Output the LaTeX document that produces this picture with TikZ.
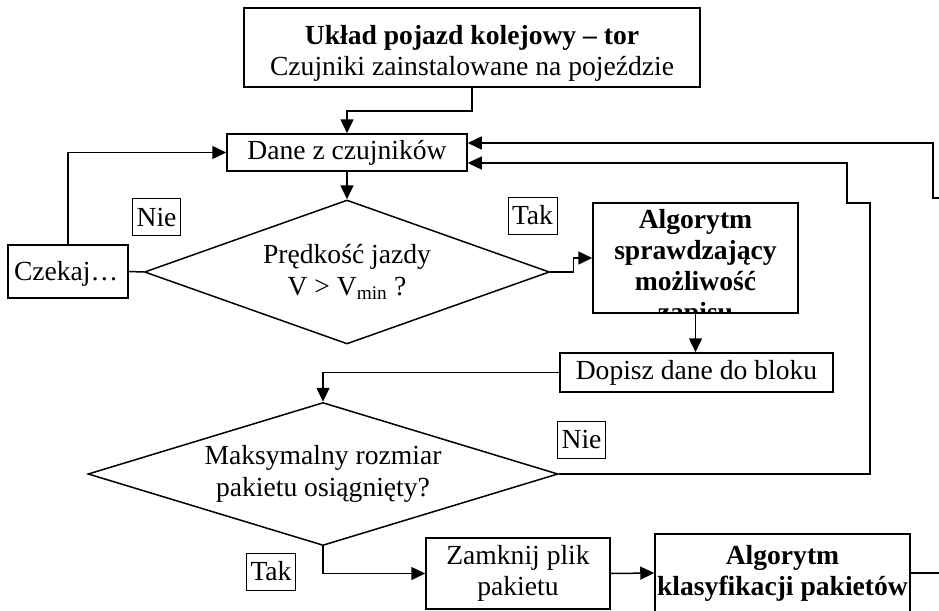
\documentclass[tikz,border=0pt]{standalone}
\usepackage{fontspec}
\setmainfont{Liberation Serif}
\usetikzlibrary{arrows.meta, shapes.geometric}

\begin{document}
\begin{tikzpicture}[
    x=1pt, y=-1pt,
    %% Process boxes
    pbox/.style = {
      draw, line width=1.5pt, align=center,
      inner sep=0pt, font=\fontsize{27.6}{31}\selectfont},
    bbox/.style = {pbox, font=\fontsize{27.6}{31}\selectfont\bfseries},
    %% Decision diamonds
    dec/.style = {
      draw, diamond, line width=1.5pt, align=center,
      inner sep=0pt, font=\fontsize{27.6}{32.5}\selectfont},
    %% Tak / Nie labels
    lab/.style = {
      draw, line width=0.9pt, inner xsep=4pt, inner ysep=0pt,
      minimum height=37pt, font=\fontsize{27.6}{31}\selectfont},
    %% Connectors
    arr/.style = {-{Triangle[length=14pt, width=13pt]}, line width=1.5pt},
    ln/.style  = {line width=1.5pt},
  ]

    \useasboundingbox (0,0) rectangle (939,610);
    \clip (0,0) rectangle (939,610);

    %% ── Main column ────────────────────────────────────────────────────
    \node[pbox, minimum width=456pt, minimum height=79pt] (B0) at (472,47.5)
      {\rule{0pt}{30pt}\textbf{Układ pojazd kolejowy – tor}\\Czujniki zainstalowane na pojeździe};
    \node[pbox, minimum width=240pt, minimum height=37pt] (B1) at (347,152.5)
      {Dane z czujników};
    \node[dec, aspect=2.8, minimum width=405pt, minimum height=144pt] (D1) at (347,272)
      {Prędkość jazdy\\V > V\textsubscript{min} ?};
    \node[pbox, inner xsep=6pt, text width=108pt, align=left,
          minimum height=53pt] (C1) at (68,271.5) {\rule{0pt}{24pt}Czekaj…};

    %% algorithm box, last line cut by the frame
    \node[pbox, minimum width=205pt, minimum height=110pt] (A1) at (695.5,258) {};
    \begin{scope}
      \clip (A1.north west) rectangle (A1.south east);
      \node[bbox, draw=none] (A1t) at (695.5,268)
        {Algorytm\\sprawdzający\\możliwość\\zapisu};
    \end{scope}

    \node[pbox, minimum width=273pt, minimum height=39pt] (B2) at (696.5,372.5)
      {Dopisz dane do bloku};
    \node[dec, aspect=3.3, minimum width=470pt, minimum height=143pt] (D2) at (323,474)
      {Maksymalny rozmiar\\pakietu osiągnięty?};
    \node[pbox, minimum width=184pt, minimum height=71pt] (B3) at (518,573.5)
      {Zamknij plik\\pakietu};
    \node[bbox, minimum width=255pt, minimum height=78pt] (A2) at (782.5,573)
      {Algorytm\\klasyfikacji pakietów};

    %% ── Labels ─────────────────────────────────────────────────────────
    \node[lab] (L1) at (156.5,217)   {Nie};
    \node[lab] (L2) at (532.5,215.5) {Tak};
    \node[lab] (L3) at (581.5,439.5) {Nie};
    \node[lab] (L4) at (271,571.5)   {Tak};

    %% ── Connectors ─────────────────────────────────────────────────────
    \coordinate (r1) at (870,203);
    \coordinate (r2) at (847,163);
    \coordinate (q0) at (960,198);
    \coordinate (q1) at (933,143);
    \coordinate (q2) at (960,573);

    \draw[arr] (B0.south) -- ++(0,23) -| (B1.north);
    \draw[arr] (B1) -- (D1);
    \draw[ln]  (D1.west) -- (C1.east);
    \draw[arr] (C1.north) |- (B1.west);
    \draw[arr] (D1.east) -- ++(23,0) |- (A1.west);
    \draw[arr] (A1.south) -- (A1.south|-B2.north);
    \draw[arr] (B2.west) -| (D2.north);
    \draw[arr] (D2.east) -| (r1) -| (r2) -- (B1.east|-r2);
    \draw[arr] (q0) -| (q1) -- (B1.east|-q1);
    \draw[arr] (D2.south) |- (B3.west);
    \draw[arr] (B3.east) -- (A2.west);
    \draw[ln]  (A2.east) -- (q2);

\end{tikzpicture}
\end{document}
